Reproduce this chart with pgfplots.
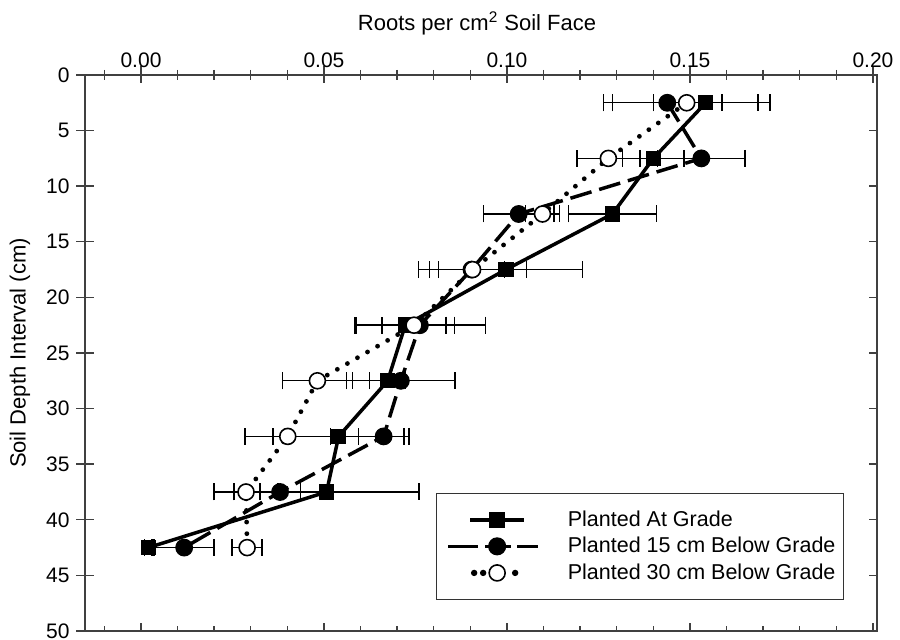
\documentclass[border=0pt]{standalone}
\usepackage{fontspec}
\setmainfont{Liberation Sans}
\usepackage{pgfplots}
\pgfplotsset{compat=1.18}
\usepackage{pgfplotstable}

% Planted At Grade (squares)
\pgfplotstableread{
y x e
2.5 0.1543 0.0143
7.5 0.1400 0.0084
12.5 0.1288 0.0120
17.5 0.0997 0.0209
22.5 0.0722 0.0135
27.5 0.0674 0.0049
32.5 0.0540 0.0179
37.5 0.0507 0.0253
42.5 0.0020 0.0010
}\tabA
% Planted 15 cm Below Grade (filled circles)
\pgfplotstableread{
y x e
2.5 0.1438 0.0150
7.5 0.1531 0.0119
12.5 0.1032 0.0096
17.5 0.0903 0.0090
22.5 0.0762 0.0179
27.5 0.0710 0.0148
32.5 0.0663 0.0069
37.5 0.0380 0.0055
42.5 0.0118 0.0082
}\tabB
% Planted 30 cm Below Grade (open circles)
\pgfplotstableread{
y x e
2.5 0.1491 0.0228
7.5 0.1277 0.0086
12.5 0.1097 0.0046
17.5 0.0906 0.0148
22.5 0.0746 0.0087
27.5 0.0482 0.0096
32.5 0.0401 0.0117
37.5 0.0287 0.0087
42.5 0.0290 0.0041
}\tabC

\begin{document}
\begin{tikzpicture}
\pgfplotsset{
  common/.style={
    scale only axis, width=396pt, height=278pt,
    xmin=-0.0153, xmax=0.2011, ymin=0, ymax=50, y dir=reverse,
    axis line style={black!75, line width=0.8pt},
    xtick={0,0.05,0.1,0.15,0.2},
    minor xtick={-0.01,0.01,0.02,0.03,0.04,0.06,0.07,0.08,0.09,0.11,0.12,0.13,0.14,0.16,0.17,0.18,0.19},
    ytick={0,5,10,15,20,25,30,35,40,45,50},
    tick style={black!75, line width=0.7pt},
  },
  ebar/.style={error bars/.cd, x dir=both, x explicit, error mark=|,
    error bar style={line width=0.7pt, solid, line cap=butt},
    error mark options={line width=0.7pt, mark size=4.25pt, solid, line cap=butt}},
}
\begin{axis}[common, name=main,
  xticklabels={0.00,0.05,0.10,0.15,0.20},
  yticklabels={0,5,10,15,20,25,30,35,40,45,50},
  xtick pos=right, xticklabel pos=right, ytick pos=left,
  tick align=center,
  major tick length=8.5pt, minor tick length=5pt,
  ticklabel style={font=\fontsize{10.5}{12}\selectfont},
  xticklabel style={yshift=-4pt},
  xlabel={Roots per cm\textsuperscript{2} Soil Face},
  ylabel={Soil Depth Interval (cm)},
  label style={font=\fontsize{11}{13}\selectfont},
  xlabel style={at={(axis description cs:0.495,1.092)}, anchor=center},
  ylabel style={at={(axis description cs:-0.082,0.5)}, anchor=center},
  legend cell align=left,
  legend style={at={(axis description cs:0.443,0.056)}, anchor=south west,
    draw=black!80, line width=0.65pt, fill=white,
    inner xsep=2pt, inner ysep=6.5pt, row sep=0pt,
    font=\fontsize{10.75}{12}\selectfont,
    /tikz/every odd column/.append style={column sep=5pt}},
]
\addlegendimage{legend image code/.code={
  \path (-28pt,0pt) (28pt,0pt);
  \draw[black, line width=1.75pt] (-13.5pt,0pt)--(13.5pt,0pt);
  \fill[black] (-3.6pt,-3.6pt) rectangle (3.6pt,3.6pt);}}
\addlegendentry{Planted At Grade}
\addlegendimage{legend image code/.code={
  \path (-28pt,0pt) (28pt,0pt);
  \draw[black, line width=1.75pt] (-24.5pt,0pt)--(-9.5pt,0pt) (-6pt,0pt)--(7pt,0pt) (10pt,0pt)--(20.5pt,0pt);
  \fill[black] (0pt,0pt) circle (4.2pt);}}
\addlegendentry{Planted 15 cm Below Grade}
\addlegendimage{legend image code/.code={
  \path (-28pt,0pt) (28pt,0pt);
  \fill[black] (-11.5pt,0pt) circle (1.25pt) (-7pt,0pt) circle (1.25pt) (9pt,0pt) circle (1.25pt);
  \filldraw[fill=white, draw=black, line width=0.8pt] (0pt,0pt) circle (4pt);}}
\addlegendentry{Planted 30 cm Below Grade}

% 15 cm below grade
\addplot[black, line width=1.75pt, dash pattern=on 11pt off 4pt,
  mark=*, mark size=4.2pt, mark options={solid, fill=black, line width=0.5pt}, ebar]
  table[x=x, y=y, x error=e] {\tabB};
% at grade
\addplot[black, line width=1.75pt,
  mark=square*, mark size=3.6pt, mark options={solid, fill=black, line width=0.5pt}, ebar]
  table[x=x, y=y, x error=e] {\tabA};
% 30 cm below grade
\addplot[black, line width=2.4pt, line cap=round, dash pattern=on 0pt off 5.8pt,
  mark=*, mark size=4pt, mark options={solid, fill=white, draw=black, line width=0.8pt}, ebar]
  table[x=x, y=y, x error=e] {\tabC};
\end{axis}
\begin{axis}[common, at={(main.south west)}, anchor=south west,
  xticklabels={}, yticklabels={},
  xtick pos=left, ytick pos=right, tick align=inside,
  major tick length=4pt, minor tick length=2.5pt]
\addplot[draw=none] coordinates {(0,0)};
\end{axis}
\pgfresetboundingbox
\path[use as bounding box] ([shift={(-42.5pt,-4.5pt)}]main.south west) rectangle ([shift={(11.5pt,37.5pt)}]main.north east);
\end{tikzpicture}
\end{document}
